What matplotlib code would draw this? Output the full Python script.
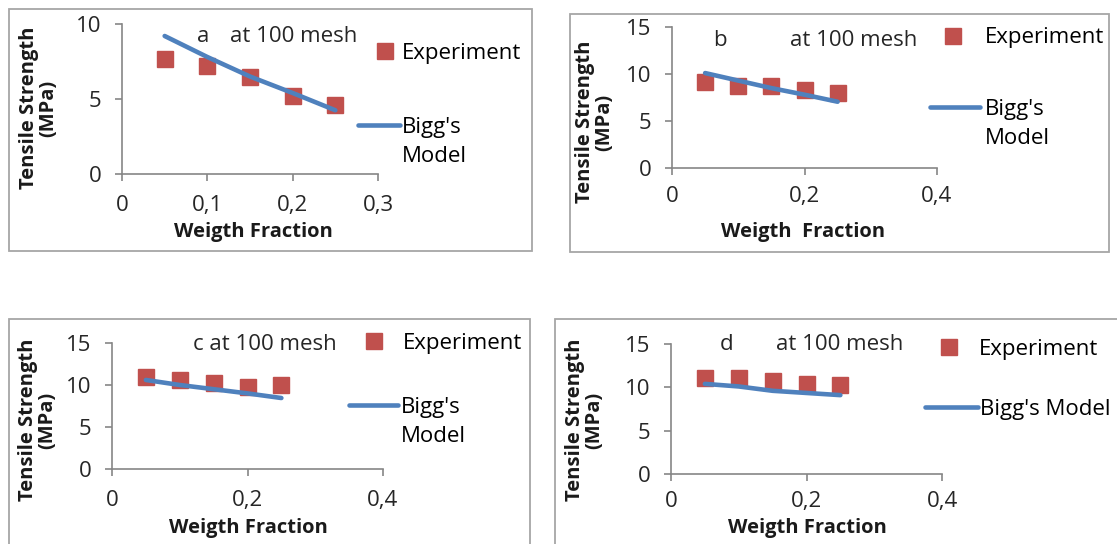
import matplotlib
matplotlib.use("Agg")
import matplotlib.pyplot as plt
from matplotlib.patches import Rectangle
from matplotlib.lines import Line2D

plt.rcParams['font.family'] = ['Open Sans', 'DejaVu Sans']

W, H = 1117, 544
FS = 16      # regular text size
FSB = 14.5   # bold axis titles
EM = FS * 100 / 72

# data
weight = [0.05, 0.10, 0.15, 0.20, 0.25]

exp_a = [7.7, 7.2, 6.45, 5.2, 4.6]
model_a = [9.2, 7.8, 6.5, 5.4, 4.25]

exp_b = [9.15, 8.7, 8.75, 8.25, 7.95]
model_b = [10.1, 9.3, 8.5, 7.8, 7.05]

exp_c = [10.95, 10.6, 10.2, 9.8, 9.95]
model_c = [10.6, 10.0, 9.5, 9.0, 8.45]

exp_d = [11.1, 11.1, 10.7, 10.4, 10.3]
model_d = [10.4, 10.1, 9.6, 9.35, 9.1]

xticks_a = [0, 0.1, 0.2, 0.3]
xlabels_a = ["0", "0,1", "0,2", "0,3"]
xticks_bcd = [0, 0.2, 0.4]
xlabels_bcd = ["0", "0,2", "0,4"]
yticks_a = [0, 5, 10]
yticks_bcd = [0, 5, 10, 15]

RED = "#C0504D"
BLUE = "#4F81BD"
AXC = "#868686"
FRAME = "#A6A6A6"
TXT = "#262626"

fig = plt.figure(figsize=(W / 100, H / 100), dpi=100)


def fx(x):
    return x / W


def fy(y):
    return 1 - y / H


def frame(x0, y0, x1, y1):
    fig.add_artist(Rectangle((fx(x0), fy(y1)), (x1 - x0) / W, (y1 - y0) / H,
                             transform=fig.transFigure, fill=False,
                             ec=FRAME, lw=1.3))


def panel(box, xlim, ylim, xticks, xlabels, yticks, exp, model,
          tag, tag_pos, title_pos, ylab_pos, xlab_pos, xlabel,
          exp_leg, mod_leg, mod_label, xpad, ms):
    x0, y0, x1, y1 = box
    ax = fig.add_axes([fx(x0), fy(y1), (x1 - x0) / W, (y1 - y0) / H])
    ax.set_xlim(*xlim)
    ax.set_ylim(*ylim)
    for s in ["top", "right"]:
        ax.spines[s].set_visible(False)
    for s in ["left", "bottom"]:
        ax.spines[s].set_color(AXC)
        ax.spines[s].set_linewidth(1.2)
    ax.set_xticks(xticks)
    ax.set_xticklabels(xlabels)
    ax.set_yticks(yticks)
    ax.tick_params(axis="both", colors=AXC, labelcolor=TXT,
                   labelsize=FS, length=5, width=1.2, direction="out")
    ax.tick_params(axis="y", pad=10)
    ax.tick_params(axis="x", pad=xpad)
    ax.patch.set_alpha(0)

    l, = ax.plot(weight, model, color=BLUE, lw=3.3, solid_capstyle="round",
                 zorder=3)
    m, = ax.plot(weight, exp, ls="none", marker="s", ms=ms, color=RED,
                 mec=RED, zorder=2)

    # annotations
    if tag is not None:
        fig.text(fx(tag_pos[0]), fy(tag_pos[1]), tag, ha="center",
                 va="center", fontsize=FS, color=TXT)
    fig.text(fx(title_pos[0]), fy(title_pos[1]), title_pos[2], ha="left",
             va="center", fontsize=FS, color=TXT)
    fig.text(fx(ylab_pos[0]), fy(ylab_pos[1]), "Tensile Strength\n(MPa)",
             rotation=90, ha="center", va="center", fontsize=FSB,
             fontweight="bold", linespacing=0.95, color="#1a1a1a")
    fig.text(fx(xlab_pos[0]), fy(xlab_pos[1]), xlabel, ha="center",
             va="center", fontsize=FSB, fontweight="bold", color="#1a1a1a")

    # legend: exp_leg = (square centre x, y, text left x)
    sq_x, sq_y, tx = exp_leg
    left = sq_x - EM / 2
    leg1 = ax.legend([m], ["Experiment"], loc="center left",
                     bbox_to_anchor=(fx(left), fy(sq_y)),
                     bbox_transform=fig.transFigure, frameon=False,
                     borderpad=0, borderaxespad=0, handlelength=1.0,
                     handletextpad=(tx - left - EM) / EM, fontsize=FS)
    ax.add_artist(leg1)
    # mod_leg = (line left, line right, text left, centre y)
    ll, lr, ltx, ly = mod_leg
    handles = [l] if len(mod_label) == 1 else [l, Line2D([], [], alpha=0)]
    ax.legend(handles, mod_label, loc="center left",
              bbox_to_anchor=(fx(ll), fy(ly)),
              bbox_transform=fig.transFigure, frameon=False,
              borderpad=0, borderaxespad=0, handlelength=(lr - ll) / EM,
              handletextpad=(ltx - lr) / EM, labelspacing=0.35, fontsize=FS)
    return ax


frame(9, 9, 532, 251)
frame(570, 14, 1109, 252)
frame(9, 319, 530, 560)
frame(555, 319, 1130, 560)

panel((122, 24, 378, 174), (0, 0.3), (0, 10), xticks_a, xlabels_a, yticks_a,
      exp_a, model_a, "a", (203, 36), (230, 36, "at 100 mesh"), (39, 108),
      (253, 232), "Weigth Fraction", (385, 53, 402), (358, 400, 402, 142),
      ["Bigg's", "Model"], 10, 11.5)

panel((672, 27, 937, 168), (0, 0.4), (0, 15), xticks_bcd, xlabels_bcd,
      yticks_bcd, exp_b, model_b, "b", (720, 40), (790, 40, "at 100 mesh"),
      (595, 122), (803, 232), "Weigth  Fraction", (953, 38, 985),
      (930, 980, 985, 124), ["Bigg's", "Model"], 8, 11.5)

panel((112, 343, 383, 469), (0, 0.4), (0, 15), xticks_bcd, xlabels_bcd,
      yticks_bcd, exp_c, model_c, None, None, (193, 344, "c at 100 mesh"),
      (38, 420), (248, 528), "Weigth Fraction", (374, 343, 403),
      (349, 398, 401, 422), ["Bigg's", "Model"], 10, 11)

panel((671, 344, 942, 474), (0, 0.4), (0, 15), xticks_bcd, xlabels_bcd,
      yticks_bcd, exp_d, model_d, "d", (727, 344), (776, 344, "at 100 mesh"),
      (585, 420), (807, 528), "Weigth Fraction", (949, 349, 979),
      (925, 978, 980, 409), ["Bigg's Model"], 7, 11)

fig.savefig("out.png", dpi=100)
